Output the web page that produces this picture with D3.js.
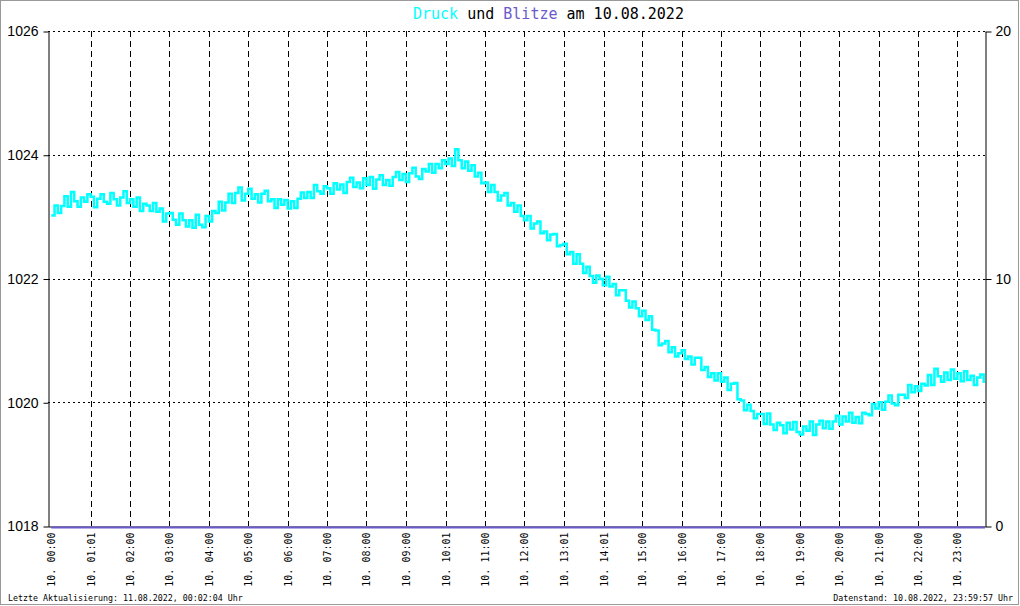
<!DOCTYPE html>
<html><head><meta charset="utf-8">
<script src="https://cdn.jsdelivr.net/npm/d3@7"></script>
<style>
html,body{margin:0;padding:0;background:#fff;}
svg{display:block;}
</style></head>
<body>
<svg id="chart" width="1020" height="606"></svg>
<script>
// ---- data ----
const titleParts = [
  {text: "Druck", color: "#00ffff"},
  {text: " und ", color: "#000000"},
  {text: "Blitze", color: "#6a5acd"},
  {text: " am 10.08.2022", color: "#000000"}
];
const footerLeft = "Letzte Aktualisierung: 11.08.2022, 00:02:04 Uhr";
const footerRight = "Datenstand: 10.08.2022, 23:59:57 Uhr";

// x tick labels (minutes after midnight, label)
const tickMinutes = [0,61,120,180,240,300,360,420,480,540,601,660,720,781,841,900,960,1020,1080,1140,1200,1260,1320,1380];
const tickLabels = ["10. 00:00","10. 01:01","10. 02:00","10. 03:00","10. 04:00","10. 05:00","10. 06:00","10. 07:00","10. 08:00","10. 09:00","10. 10:01","10. 11:00","10. 12:00","10. 13:01","10. 14:01","10. 15:00","10. 16:00","10. 17:00","10. 18:00","10. 19:00","10. 20:00","10. 21:00","10. 22:00","10. 23:00"];
const leftTicks = [1018,1020,1022,1024,1026];
const rightTicks = [0,10,20];

const sampleStepMinutes = 5;
// pressure (hPa), one value every 5 minutes from 00:00
const pressure = [
1023.02,1023.18,1023.06,1023.17,1023.33,1023.16,1023.40,1023.25,1023.16,1023.31,1023.24,1023.36,
1023.32,1023.15,1023.29,1023.36,1023.24,1023.21,1023.38,1023.28,1023.18,1023.31,1023.41,1023.22,
1023.28,1023.16,1023.31,1023.09,1023.21,1023.18,1023.09,1023.22,1023.08,1023.13,1022.92,1023.05,
1023.06,1022.95,1022.87,1023.05,1022.94,1022.84,1022.94,1022.82,1023.03,1022.87,1022.83,1023.01,
1022.92,1023.09,1023.06,1023.24,1023.10,1023.23,1023.37,1023.22,1023.38,1023.47,1023.26,1023.37,
1023.45,1023.29,1023.36,1023.23,1023.37,1023.42,1023.25,1023.28,1023.14,1023.28,1023.19,1023.27,
1023.13,1023.25,1023.14,1023.29,1023.39,1023.30,1023.40,1023.30,1023.51,1023.41,1023.37,1023.49,
1023.46,1023.37,1023.54,1023.44,1023.52,1023.38,1023.56,1023.63,1023.48,1023.55,1023.46,1023.62,
1023.51,1023.64,1023.45,1023.60,1023.67,1023.51,1023.59,1023.50,1023.64,1023.72,1023.59,1023.69,
1023.56,1023.70,1023.79,1023.65,1023.61,1023.77,1023.73,1023.85,1023.71,1023.85,1023.78,1023.91,
1023.85,1023.94,1023.82,1024.09,1023.91,1023.78,1023.89,1023.74,1023.83,1023.65,1023.71,1023.54,
1023.55,1023.40,1023.51,1023.40,1023.26,1023.34,1023.38,1023.18,1023.22,1023.08,1023.18,1023.01,
1022.94,1023.01,1022.81,1022.89,1022.92,1022.73,1022.76,1022.62,1022.71,1022.72,1022.52,1022.54,
1022.56,1022.39,1022.43,1022.24,1022.39,1022.24,1022.09,1022.19,1022.04,1021.93,1022.05,1021.99,
1021.89,1022.03,1021.87,1021.91,1021.73,1021.81,1021.81,1021.64,1021.53,1021.63,1021.52,1021.39,
1021.48,1021.33,1021.39,1021.17,1021.16,1020.92,1020.95,1020.99,1020.81,1020.89,1020.74,1020.79,
1020.84,1020.70,1020.74,1020.61,1020.72,1020.72,1020.52,1020.57,1020.41,1020.47,1020.35,1020.47,
1020.33,1020.40,1020.20,1020.30,1020.31,1020.05,1020.03,1019.87,1019.96,1019.86,1019.74,1019.81,
1019.81,1019.65,1019.82,1019.64,1019.55,1019.67,1019.63,1019.50,1019.67,1019.56,1019.68,1019.52,
1019.48,1019.61,1019.54,1019.69,1019.47,1019.64,1019.70,1019.58,1019.69,1019.57,1019.69,1019.78,
1019.64,1019.77,1019.69,1019.83,1019.67,1019.76,1019.66,1019.83,1019.81,1019.79,1019.97,1019.90,
1020.00,1019.88,1020.01,1020.11,1019.98,1019.95,1020.12,1020.12,1020.07,1020.28,1020.16,1020.26,
1020.18,1020.30,1020.27,1020.44,1020.28,1020.54,1020.42,1020.33,1020.48,1020.36,1020.53,1020.38,
1020.47,1020.34,1020.50,1020.36,1020.43,1020.28,1020.40,1020.45,1020.31
];
// lightning counts per hour
const blitzeHours = [0,1,2,3,4,5,6,7,8,9,10,11,12,13,14,15,16,17,18,19,20,21,22,23,23.7];
const blitze = [0,0,0,0,0,0,0,0,0,0,0,0,0,0,0,0,0,0,0,0,0,0,0,0,0];

// ---- chart ----
const svg = d3.select("#chart");
const L = 48, R = 985, T = 31, B = 526;
const x = d3.scaleLinear().domain([-5, 1422]).range([L, R]);
const yL = d3.scaleLinear().domain([1018, 1026]).range([B, T]);
const yR = d3.scaleLinear().domain([0, 20]).range([B, T]);
const mono = "'DejaVu Sans Mono', monospace";

// outer border
svg.append("rect").attr("x",0.5).attr("y",0.5).attr("width",1018).attr("height",604)
  .attr("fill","#fff").attr("stroke","#999");

// title
const title = svg.append("text").attr("x",413).attr("y",19)
  .attr("font-family",mono).attr("font-size",15)
  .attr("xml:space","preserve").style("white-space","pre");
titleParts.forEach(p => title.append("tspan").attr("fill",p.color).text(p.text));

// horizontal dotted grid
svg.append("g").selectAll("line").data(leftTicks.filter(v => v !== 1018)).join("line")
  .attr("x1",L).attr("x2",R)
  .attr("y1",d => Math.round(yL(d))+0.5).attr("y2",d => Math.round(yL(d))+0.5)
  .attr("stroke","#000").attr("stroke-dasharray","2,3");

// vertical dashed grid
svg.append("g").selectAll("line").data(tickMinutes.slice(1)).join("line")
  .attr("x1",d => Math.round(x(d))+0.5).attr("x2",d => Math.round(x(d))+0.5)
  .attr("y1",T).attr("y2",B)
  .attr("stroke","#000").attr("stroke-dasharray","6,4");

// pressure line
const line = d3.line()
  .x((d,i) => x(i*sampleStepMinutes))
  .y(d => yL(d))
  .curve(d3.curveStepAfter);
svg.append("path").datum(pressure).attr("d",line)
  .attr("fill","none").attr("stroke","#00ffff").attr("stroke-width",2.5);

// left axis
const axL = d3.axisLeft(yL).tickValues(leftTicks).tickSize(5).tickSizeOuter(0).tickFormat(d3.format("d"));
const gL = svg.append("g").attr("transform",`translate(${L+0.5},0.5)`).call(axL);
gL.selectAll("text").attr("font-family","'Liberation Sans', Arial, sans-serif").attr("font-size",14).attr("fill","#000").attr("x",-10);
gL.selectAll("line,path").attr("stroke","#000");

// right axis
const axR = d3.axisRight(yR).tickValues(rightTicks).tickSize(6).tickSizeOuter(0);
const gR = svg.append("g").attr("transform",`translate(${R+0.5},0.5)`).call(axR);
gR.selectAll("text").attr("font-family","'Liberation Sans', Arial, sans-serif").attr("font-size",14).attr("fill","#000").attr("x",10);
gR.selectAll("line,path").attr("stroke","#000");

// bottom axis (labels only)
const axB = d3.axisBottom(x).tickValues(tickMinutes).tickSize(0).tickSizeOuter(0)
  .tickFormat((d,i) => tickLabels[i]);
const gB = svg.append("g").attr("transform",`translate(0,${B+0.5})`).call(axB);
gB.select(".domain").attr("stroke","#000");
gB.selectAll("text").attr("font-family",mono).attr("font-size",10).attr("fill","#000")
  .attr("transform","rotate(-90)").attr("text-anchor","end")
  .attr("x",-6).attr("y",0).attr("dy","0.35em");

// Blitze line (zero)
const blitzLine = d3.line().x(d => x(d[0]*60)).y(d => yR(d[1]) + 1.5);
svg.append("path").datum(blitzeHours.map((h,i) => [h, blitze[i]]))
  .attr("d", d => blitzLine(d.map(p => [Math.min(p[0], 1422/60), p[1]])))
  .attr("fill","none").attr("stroke","#6a5acd").attr("stroke-width",2);

// footers
svg.append("text").attr("x",8).attr("y",601).attr("font-family",mono).attr("font-size",8.3).attr("fill","#000").text(footerLeft);
svg.append("text").attr("x",1013).attr("y",601).attr("text-anchor","end").attr("font-family",mono).attr("font-size",8.3).attr("fill","#000").text(footerRight);
</script>
</body></html>
